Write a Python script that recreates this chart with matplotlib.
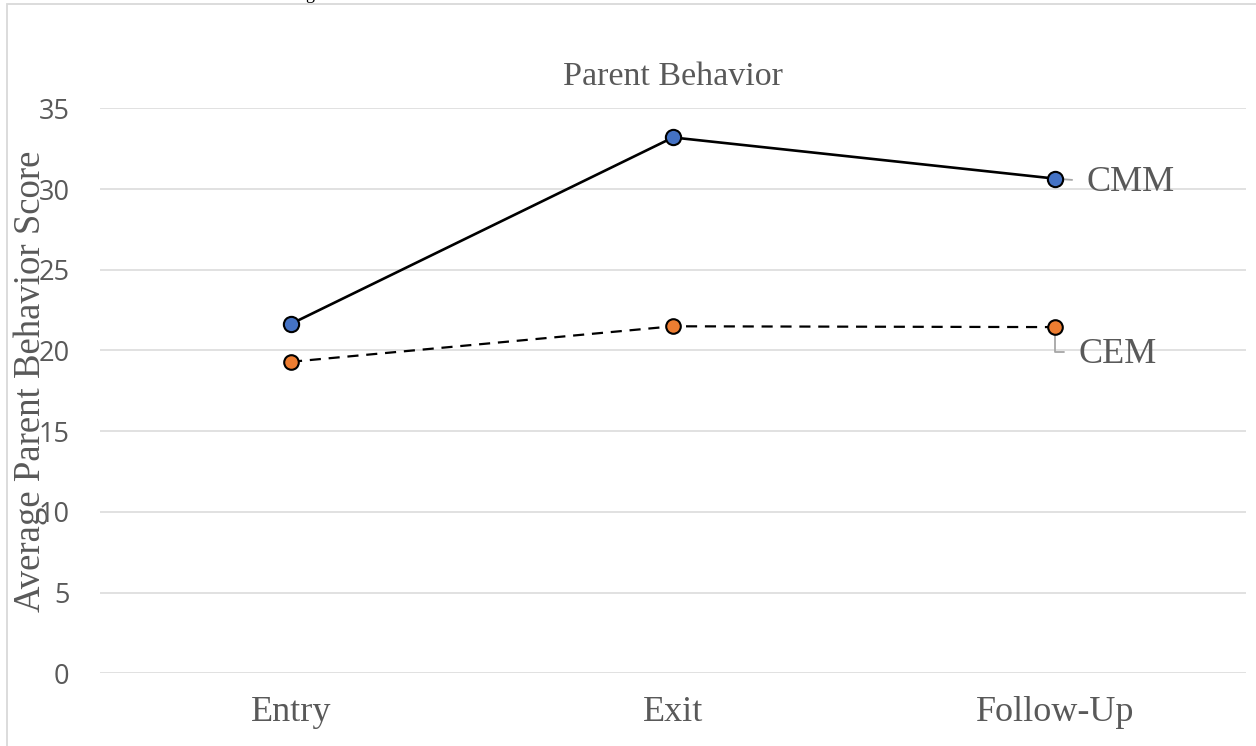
import matplotlib
matplotlib.use("Agg")
import matplotlib.pyplot as plt
from matplotlib.patches import Rectangle

categories = ["Entry", "Exit", "Follow-Up"]
cmm = [21.65, 33.2, 30.65]
cem = [19.3, 21.5, 21.45]
series_names = ["CMM", "CEM"]
yticks = [0, 5, 10, 15, 20, 25, 30, 35]
title = "Parent Behavior"
ylabel = "Average Parent Behavior Score"

W, H = 1256, 746
fig = plt.figure(figsize=(W / 100, H / 100), dpi=100)
fig.patch.set_facecolor("white")

# outer chart frame (cropped)
fig.add_artist(Rectangle((7 / W, -0.1), 1.2, 1 - 4 / H + 0.1, transform=fig.transFigure,
                         fill=False, edgecolor="#d9d9d9", linewidth=1.3))
# cut-off text fragment at top (as in the reference)
fig.text(310 / W, 1 + 0.6 / H, "g", fontsize=13, family="Liberation Serif",
         ha="center", va="baseline", color="black")

ax = fig.add_axes([100 / W, 72.7 / H, 1146 / W, (637.6 - 72.7) / H])
x = list(range(len(categories)))

ax.set_xlim(-0.5, len(categories) - 0.5)
ax.set_ylim(0, 35)
ax.set_yticks(yticks)
ax.set_xticks(x)
ax.set_xticklabels(categories, family="Liberation Serif", fontsize=26, color="#595959")
ax.set_yticklabels([str(v) for v in yticks], family="Open Sans", fontsize=19.5, color="#595959")
ax.tick_params(axis="x", length=0, pad=16)
ax.tick_params(axis="y", length=0, pad=22)
for s in ax.spines.values():
    s.set_visible(False)
ax.yaxis.grid(True, color="#d9d9d9", linewidth=1.1)
ax.set_axisbelow(True)

ax.plot(x, cmm, color="black", linewidth=1.9, marker="o", markersize=11,
        markerfacecolor="#4472C4", markeredgecolor="black", markeredgewidth=1.5, zorder=3)
ax.plot(x, cem, color="black", linewidth=1.6, linestyle=(0, (5, 3.5)), marker="o", markersize=10.5,
        markerfacecolor="#ED7D31", markeredgecolor="black", markeredgewidth=1.5, zorder=3)

ax.annotate(series_names[0], xy=(x[-1], cmm[-1]), xytext=(31, -4), textcoords="offset pixels",
            family="Liberation Serif", fontsize=26, color="#595959", ha="left", va="center",
            arrowprops=dict(arrowstyle="-", color="#a6a6a6", linewidth=1.3,
                            shrinkA=8, shrinkB=0, relpos=(0, 0.55)), zorder=2)
ax.annotate(series_names[1], xy=(x[-1], cem[-1]), xytext=(23, -27), textcoords="offset pixels",
            family="Liberation Serif", fontsize=26, color="#595959", ha="left", va="center",
            arrowprops=dict(arrowstyle="-", color="#a6a6a6", linewidth=1.3,
                            connectionstyle="angle,angleA=0,angleB=90,rad=0",
                            shrinkA=8, shrinkB=0, relpos=(0, 0.55)), zorder=2)

ax.set_title(title, family="Liberation Serif", fontsize=24.5, color="#595959", pad=17)
ax.set_ylabel(ylabel, family="Liberation Serif", fontsize=26.5, color="#595959")
ax.yaxis.set_label_coords(-52 / 1146, 0.516)

fig.savefig("out.png", dpi=100)
